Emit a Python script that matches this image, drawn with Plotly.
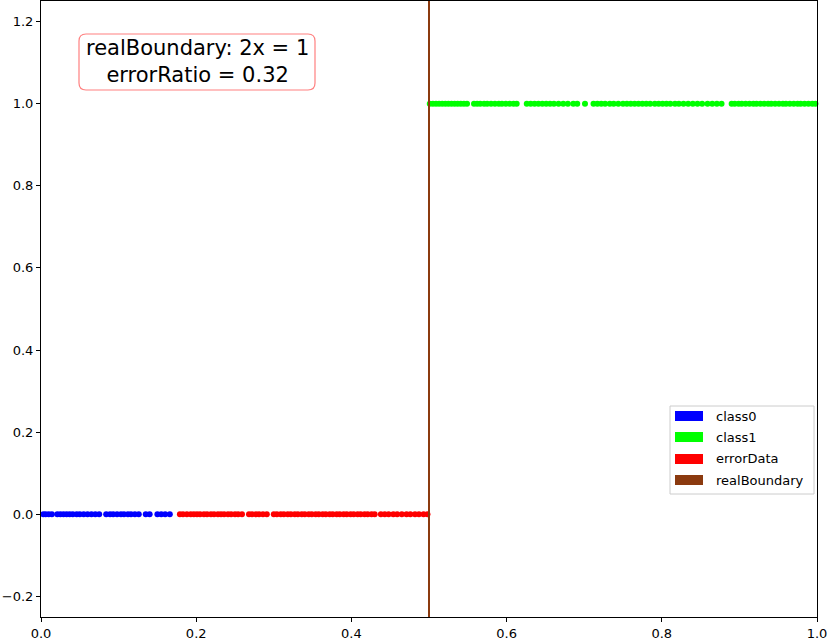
import plotly.graph_objects as go

class0_x = [0.003, 0.006, 0.010, 0.014,
            0.021, 0.025, 0.029, 0.033, 0.037, 0.041, 0.046, 0.050, 0.055, 0.060, 0.065,
            0.070, 0.075, 0.084,
            0.089, 0.093, 0.098, 0.103, 0.107, 0.112, 0.116, 0.121, 0.126,
            0.135, 0.140, 0.150, 0.155, 0.160, 0.166]
error_x = [0.179, 0.183, 0.188, 0.193, 0.197, 0.201, 0.205, 0.210, 0.214, 0.219, 0.223, 0.228,
           0.232, 0.236, 0.241, 0.245, 0.250, 0.254, 0.259,
           0.268, 0.272, 0.277, 0.281, 0.286, 0.291,
           0.300, 0.304, 0.309, 0.313, 0.318, 0.322, 0.327, 0.331, 0.336, 0.340, 0.345, 0.349,
           0.354, 0.358, 0.363, 0.367, 0.372, 0.376, 0.381, 0.385, 0.390, 0.394, 0.399, 0.403,
           0.408, 0.412, 0.417, 0.421, 0.426, 0.430,
           0.438, 0.443, 0.448, 0.454, 0.459, 0.465, 0.471, 0.476, 0.482, 0.487, 0.493, 0.498]
class1_x = [0.501, 0.505, 0.509, 0.513, 0.517, 0.521, 0.525, 0.529, 0.533, 0.537, 0.541, 0.545, 0.549,
            0.558, 0.562, 0.566, 0.571, 0.575, 0.580, 0.585, 0.590, 0.594, 0.599, 0.604, 0.609, 0.613,
            0.626, 0.631, 0.636, 0.641, 0.646, 0.651, 0.656, 0.661, 0.667, 0.673, 0.679,
            0.686, 0.691, 0.701,
            0.712, 0.717, 0.722, 0.727, 0.733, 0.738, 0.744, 0.750, 0.755, 0.760, 0.765, 0.770,
            0.775, 0.780, 0.785, 0.791, 0.796, 0.801, 0.806, 0.811,
            0.817, 0.822, 0.828, 0.834, 0.840, 0.846, 0.852,
            0.859, 0.865, 0.871, 0.877,
            0.890, 0.894, 0.899, 0.903, 0.908, 0.913, 0.918, 0.922, 0.927, 0.932, 0.937, 0.941,
            0.946, 0.951, 0.956, 0.960, 0.965, 0.970, 0.975, 0.979, 0.984, 0.989, 0.994, 0.998]
class0_label = 0
class1_label = 1
boundary_x = 0.5
error_ratio = 0.32
legend_names = ["class0", "class1", "errorData", "realBoundary"]
legend_colors = ["#0000ff", "#00ff00", "#ff0000", "#8b3a0f"]

W, H = 828, 638
L, R, T, B = 41, 11, 1, 21
PW, PH = W - L - R, H - T - B

def px(x):
    return (x - L) / PW

def py(y):
    return (H - B - y) / PH

fig = go.Figure()
fig.add_trace(go.Scatter(x=class0_x, y=[class0_label] * len(class0_x), mode="markers",
                         marker=dict(color=legend_colors[0], size=6, line=dict(width=0)),
                         showlegend=False, cliponaxis=False))
fig.add_trace(go.Scatter(x=error_x, y=[class0_label] * len(error_x), mode="markers",
                         marker=dict(color=legend_colors[2], size=6, line=dict(width=0)),
                         showlegend=False, cliponaxis=False))
fig.add_trace(go.Scatter(x=class1_x, y=[class1_label] * len(class1_x), mode="markers",
                         marker=dict(color=legend_colors[1], size=6, line=dict(width=0)),
                         showlegend=False, cliponaxis=False))
fig.add_trace(go.Scatter(x=[boundary_x, boundary_x], y=[-0.25, 1.25], mode="lines",
                         line=dict(color=legend_colors[3], width=2), showlegend=False))

shapes = []
annotations = []

# legend box
shapes.append(dict(type="rect", xref="paper", yref="paper",
                   x0=px(670), x1=px(814), y0=py(494), y1=py(406),
                   line=dict(color="#cccccc", width=1), fillcolor="white"))
rows = [416, 437, 459, 480]
for name, col, ry in zip(legend_names, legend_colors, rows):
    shapes.append(dict(type="rect", xref="paper", yref="paper",
                       x0=px(675), x1=px(703), y0=py(ry + 5), y1=py(ry - 5),
                       line=dict(width=0), fillcolor=col))
    annotations.append(dict(xref="paper", yref="paper", x=px(714), y=py(ry),
                            xanchor="left", yanchor="middle", text=name, showarrow=False,
                            font=dict(family="DejaVu Sans", size=13, color="black")))

# rounded info box
x0, x1, y0, y1, r = 79, 315, 34, 90, 7
pts = f"M {px(x0 + r)},{py(y0)} L {px(x1 - r)},{py(y0)} Q {px(x1)},{py(y0)} {px(x1)},{py(y0 + r)} " \
      f"L {px(x1)},{py(y1 - r)} Q {px(x1)},{py(y1)} {px(x1 - r)},{py(y1)} " \
      f"L {px(x0 + r)},{py(y1)} Q {px(x0)},{py(y1)} {px(x0)},{py(y1 - r)} " \
      f"L {px(x0)},{py(y0 + r)} Q {px(x0)},{py(y0)} {px(x0 + r)},{py(y0)} Z"
shapes.append(dict(type="path", xref="paper", yref="paper", path=pts,
                   line=dict(color="#ff8080", width=1.2), fillcolor="white"))
annotations.append(dict(xref="paper", yref="paper", x=px(197), y=py(62),
                        xanchor="center", yanchor="middle", showarrow=False,
                        text=f"realBoundary: 2x = {int(2 * boundary_x)}<br>errorRatio = {error_ratio}",
                        font=dict(family="DejaVu Sans", size=21, color="black")))

fig.update_layout(
    width=W, height=H,
    margin=dict(l=L, r=R, t=T, b=B, autoexpand=False),
    paper_bgcolor="white", plot_bgcolor="white",
    showlegend=False,
    shapes=shapes, annotations=annotations,
    font=dict(family="DejaVu Sans", size=13, color="black"),
)
axis_common = dict(showgrid=False, zeroline=False, showline=True, linecolor="black",
                   linewidth=1, mirror=True, ticks="outside", ticklen=4, tickwidth=1,
                   tickcolor="black", automargin=False,
                   tickfont=dict(family="DejaVu Sans", size=13, color="black"))
fig.update_xaxes(range=[0, 1], tickvals=[0, 0.2, 0.4, 0.6, 0.8, 1.0], tickformat=".1f", **axis_common)
fig.update_yaxes(range=[-0.25, 1.25], tickvals=[-0.2, 0, 0.2, 0.4, 0.6, 0.8, 1.0, 1.2],
                 tickformat=".1f", **axis_common)

fig.write_html("out.html", config={"displayModeBar": False},
               post_script="document.body.style.margin='0';document.body.style.padding='0';")
